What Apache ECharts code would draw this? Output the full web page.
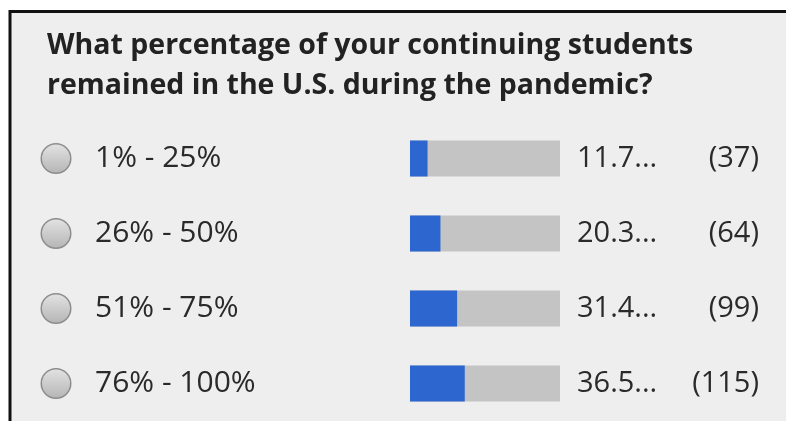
<!DOCTYPE html>
<html>
<head>
<meta charset="utf-8">
<script src="https://cdn.jsdelivr.net/npm/echarts@6/dist/echarts.min.js"></script>
<style>
html,body{margin:0;padding:0;background:#ffffff;}
#c{width:786px;height:421px;}
</style>
</head>
<body>
<div id="c"></div>
<script>
var titleLines = ['What percentage of your continuing students', 'remained in the U.S. during the pandemic?'];
var categories = ['1% - 25%', '26% - 50%', '51% - 75%', '76% - 100%'];
var percents = [11.7, 20.3, 31.4, 36.5];
var counts = [37, 64, 99, 115];

var chart = echarts.init(document.getElementById('c'));
var FONT = '"Open Sans", "Noto Sans", sans-serif';

var radioFill = new echarts.graphic.LinearGradient(0, 0, 0, 1, [
  {offset: 0, color: '#e4e4e4'},
  {offset: 1, color: '#b4b4b4'}
]);

chart.setOption({
  backgroundColor: '#ffffff',
  animation: false,
  graphic: [{
    type: 'rect',
    shape: {x: 10, y: 11.5, width: 800, height: 440},
    style: {fill: '#eeeeee', stroke: '#111111', lineWidth: 3},
    z: -10
  }],
  title: {
    text: titleLines.join('\n'),
    left: 42,
    top: 21,
    textStyle: {
      fontFamily: FONT,
      fontWeight: 'bold',
      fontSize: 28.5,
      lineHeight: 40,
      color: '#222222'
    }
  },
  grid: {left: 410, right: 226, top: 121, bottom: 0, containLabel: false},
  xAxis: {
    type: 'value', min: 0, max: 100, show: false
  },
  yAxis: [{
    type: 'category',
    data: categories,
    inverse: true,
    position: 'left',
    axisLine: {show: false},
    axisTick: {show: false},
    axisLabel: {
      align: 'left',
      margin: 368,
      formatter: function (v) { return '{r|}{t|' + v + '}'; },
      rich: {
        r: {
          width: 28, height: 28, borderRadius: 15,
          backgroundColor: radioFill,
          borderColor: '#8c8c8c', borderWidth: 1.5
        },
        t: {
          fontFamily: FONT, fontSize: 30, color: '#2a2a2a', padding: [0, 0, 0, 25]
        }
      }
    }
  }, {
    type: 'category',
    data: categories,
    inverse: true,
    position: 'right',
    axisLine: {show: false},
    axisTick: {show: false},
    axisLabel: {
      align: 'left',
      margin: 17,
      fontFamily: FONT, fontSize: 29, color: '#2a2a2a',
      formatter: function (v, i) { return percents[i].toFixed(1) + '...'; }
    }
  }, {
    type: 'category',
    data: categories,
    inverse: true,
    position: 'right',
    axisLine: {show: false},
    axisTick: {show: false},
    axisLabel: {
      align: 'right',
      margin: 199,
      fontFamily: FONT, fontSize: 29, color: '#2a2a2a',
      formatter: function (v, i) { return '(' + counts[i] + ')'; }
    }
  }],
  series: [{
    type: 'bar',
    yAxisIndex: 0,
    data: percents,
    barWidth: 36,
    itemStyle: {color: '#2d66cf'},
    showBackground: true,
    backgroundStyle: {color: '#c4c4c4'}
  }]
});
</script>
</body>
</html>
